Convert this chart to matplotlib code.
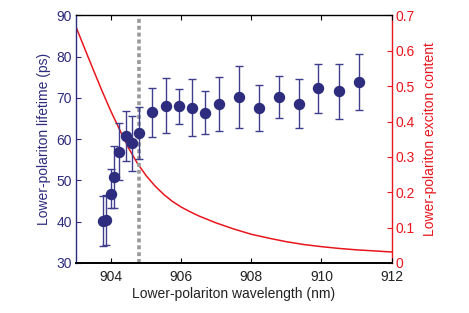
import matplotlib
matplotlib.use("Agg")
import matplotlib.pyplot as plt

plt.rcParams['font.family'] = ['Liberation Sans', 'DejaVu Sans']

# lifetime data (left axis)
wavelength = [903.76, 903.87, 904.00, 904.07, 904.24, 904.43, 904.61, 904.80,
              905.17, 905.56, 905.94, 906.32, 906.69, 907.08, 907.65, 908.22,
              908.79, 909.36, 909.91, 910.49, 911.06]
lifetime = [40.2, 40.5, 46.8, 50.8, 57.0, 60.8, 59.0, 61.4,
            66.5, 68.1, 68.0, 67.6, 66.4, 68.5, 70.2, 67.6,
            70.2, 68.6, 72.3, 71.6, 73.9]
err_low = [34.0, 34.4, 43.3, 43.4, 50.1, 54.8, 52.3, 55.1,
           60.5, 61.6, 63.8, 60.7, 61.2, 62.1, 62.6, 61.9,
           65.2, 62.7, 66.3, 64.9, 67.1]
err_high = [46.2, 46.5, 52.8, 58.4, 64.0, 66.8, 65.6, 67.9,
            72.5, 74.9, 72.1, 74.6, 71.7, 75.2, 77.7, 73.2,
            75.3, 74.7, 78.2, 78.2, 80.7]

# exciton content curve (right axis)
curve_wl = [903.00, 903.25, 903.50, 903.75, 904.00, 904.25, 904.50, 904.75,
            905.00, 905.25, 905.50, 905.75, 906.00, 906.25, 906.50, 906.75,
            907.00, 907.50, 908.00, 908.50, 909.00, 909.50, 910.00, 910.50,
            911.00, 911.50, 912.00]
curve_x = [0.668, 0.606, 0.545, 0.485, 0.428, 0.376, 0.325, 0.282,
           0.247, 0.218, 0.194, 0.174, 0.158, 0.145, 0.133, 0.123,
           0.113, 0.096, 0.081, 0.070, 0.060, 0.052, 0.046, 0.041,
           0.037, 0.034, 0.031]

cutoff = 904.8

navy = '#2d2c7e'
bar_col = '#3f3e8e'
red = '#e8161d'

fig = plt.figure(figsize=(4.69, 3.13), dpi=100)
ax = fig.add_axes([0.162, 0.16, 0.673, 0.7905])
ax2 = ax.twinx()
ax.set_zorder(ax2.get_zorder() + 1)
ax.patch.set_visible(False)

# red curve on right axis
ax2.plot(curve_wl, curve_x, color=red, lw=1.1)
ax2.set_ylim(0, 0.7)
ax2.set_yticks([0, 0.1, 0.2, 0.3, 0.4, 0.5, 0.6, 0.7])
ax2.set_yticklabels(['0', '0.1', '0.2', '0.3', '0.4', '0.5', '0.6', '0.7'])
ax2.tick_params(axis='y', colors=red, direction='in', length=3.5, labelsize=10, pad=3)
ax2.set_ylabel('Lower-polariton exciton content', color=red, fontsize=10, labelpad=6)
for s in ['left', 'top', 'bottom']:
    ax2.spines[s].set_visible(False)
ax2.spines['right'].set_color(red)
ax2.spines['right'].set_linewidth(1.0)

# cutoff line
ax.axvline(cutoff, color='#9a9a9a', lw=2.6, linestyle=(0, (1.1, 0.8)), zorder=1)

# lifetime points
yerr = [[l - e for l, e in zip(lifetime, err_low)],
        [e - l for l, e in zip(lifetime, err_high)]]
ax.errorbar(wavelength, lifetime, yerr=yerr, fmt='none', ecolor=bar_col,
            elinewidth=1.0, capsize=3, capthick=1.0, zorder=3)
ax.plot(wavelength, lifetime, 'o', color=navy, ms=7.2, zorder=4)

ax.set_xlim(903, 912)
ax.set_ylim(30, 90)
ax.set_xticks([904, 906, 908, 910, 912])
ax.set_yticks([30, 40, 50, 60, 70, 80, 90])
ax.tick_params(axis='x', colors='black', direction='in', length=3.5, top=True,
               labelsize=10, labelcolor='#222222', pad=5)
ax.tick_params(axis='y', colors=navy, direction='in', length=3.5, right=False,
               labelsize=10, pad=3)
ax.set_xlabel('Lower-polariton wavelength (nm)', fontsize=10, color='#222222', labelpad=2)
ax.set_ylabel('Lower-polariton lifetime (ps)', fontsize=10, color=navy, labelpad=4)
ax.spines['right'].set_visible(False)
ax.spines['left'].set_color(navy)
ax.spines['left'].set_linewidth(1.0)
ax.spines['top'].set_linewidth(1.0)
ax.spines['bottom'].set_linewidth(1.4)

fig.savefig('out.png', dpi=100)
